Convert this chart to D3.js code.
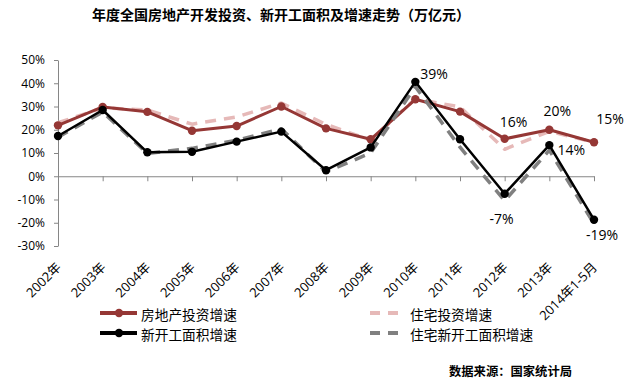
<!DOCTYPE html>
<html>
<head>
<meta charset="utf-8">
<script src="https://cdn.jsdelivr.net/npm/d3@7"></script>
<style>
  body { margin: 0; background: #fff; }
  svg { display: block; }
  .axis path, .axis line { stroke: #868686; }
</style>
</head>
<body>
<script>
const W = 633, H = 386;
const latin = "'Open Sans', 'Noto Sans CJK SC', sans-serif";
const cjk = "'Noto Sans CJK SC', sans-serif";

// categories and series (%)
const years = ["2002年", "2003年", "2004年", "2005年", "2006年", "2007年", "2008年",
               "2009年", "2010年", "2011年", "2012年", "2013年", "2014年1-5月"];
const invest = [21.9, 29.8, 27.7, 19.6, 21.6, 30.0, 20.6, 15.9, 33.1, 27.8, 16.1, 20.0, 14.6];
const houseInvest = [23.0, 29.4, 28.5, 22.4, 25.5, 31.5, 22.3, 15.5, 33.3, 29.8, 11.6, 19.3, 14.6];
const newStart = [17.3, 28.5, 10.3, 10.5, 14.9, 19.2, 2.6, 12.4, 40.6, 15.9, -7.5, 13.4, -18.7];
const houseStart = [16.8, 27.6, 9.8, 12.0, 15.5, 20.4, 1.8, 10.0, 38.5, 12.5, -10.5, 11.2, -20.5];
const yTicks = [-30, -20, -10, 0, 10, 20, 30, 40, 50];

const seriesNames = ["房地产投资增速", "住宅投资增速", "新开工面积增速", "住宅新开工面积增速"];

// data labels: series index, category index, text
const labelSeries = [2, 0, 0, 0, 2, 2, 2];
const labelCats = [8, 10, 11, 12, 11, 10, 12];
const labelTexts = ["39%", "16%", "20%", "15%", "14%", "-7%", "-19%"];
// label offsets from their point, px
const labelDx = [5, 9, 8, 16, 22, -3, 8];
const labelDy = [-8, -17, -19, -23, 5, 25, 15];

const svg = d3.select("body").append("svg")
    .attr("width", W)
    .attr("height", H);

const x = d3.scalePoint()
    .domain(years)
    .range([58, 594]);

const y = d3.scaleLinear()
    .domain([-30, 50])
    .range([246, 60]);

// title
svg.append("text")
    .attr("x", 92)
    .attr("y", 15)
    .attr("dy", "0.35em")
    .style("font-family", cjk)
    .style("font-size", "14px")
    .style("font-weight", "bold")
    .text("年度全国房地产开发投资、新开工面积及增速走势（万亿元）");

// y axis
let yAxis = svg.append("g")
    .attr("class", "axis")
    .attr("transform", "translate(58,0)")
    .call(d3.axisLeft(y).tickValues(yTicks).tickSize(4).tickSizeOuter(0)
        .tickFormat(d => d + "%"));
yAxis.selectAll("text")
    .attr("x", -13)
    .style("font-family", latin)
    .style("font-size", "12px")
    .attr("fill", "#000");

// x axis at zero
svg.append("g")
    .attr("class", "axis")
    .attr("transform", "translate(0," + y(0) + ")")
    .call(d3.axisBottom(x).tickSize(5).tickSizeOuter(0).tickFormat(""));

// category labels at the bottom, rotated
svg.append("g").selectAll("text")
    .data(years)
    .join("text")
    .attr("transform", d => "translate(" + (x(d) + 4) + ",268) rotate(-45)")
    .attr("text-anchor", "end")
    .style("font-family", latin)
    .style("font-size", "13px")
    .text(d => d);

const line = d3.line()
    .x((d, i) => x(years[i]))
    .y(d => y(d));

const styles = [
  {data: invest, color: "#953735", width: 3, dash: null, marker: true},
  {data: houseInvest, color: "#e6b9b8", width: 3.5, dash: "11,8", marker: false},
  {data: newStart, color: "#000000", width: 2.5, dash: null, marker: true},
  {data: houseStart, color: "#808080", width: 3.5, dash: "11,8", marker: false}
];

// draw order: dashed under solid
[1, 0, 3, 2].forEach(k => {
  let s = styles[k];
  svg.append("path")
      .datum(s.data)
      .attr("fill", "none")
      .attr("stroke", s.color)
      .attr("stroke-width", s.width)
      .attr("stroke-dasharray", s.dash)
      .attr("stroke-linejoin", "round")
      .attr("d", line);
  if (s.marker) {
    svg.append("g").selectAll("circle")
        .data(s.data)
        .join("circle")
        .attr("cx", (d, i) => x(years[i]))
        .attr("cy", d => y(d))
        .attr("r", 4.2)
        .attr("fill", s.color);
  }
});

// data labels
labelTexts.forEach((t, j) => {
  let s = styles[labelSeries[j]];
  let c = labelCats[j];
  svg.append("text")
      .attr("x", x(years[c]) + labelDx[j])
      .attr("y", y(s.data[c]) + labelDy[j])
      .attr("dy", "0.35em")
      .attr("text-anchor", j === 0 ? "start" : "middle")
      .style("font-family", latin)
      .style("font-size", "14px")
      .text(t);
});

// legend
const legX = [100, 370];
const legY = [313, 333];
[0, 1, 2, 3].forEach(k => {
  let col = k % 2, row = Math.floor(k / 2);
  let s = styles[k];
  let lx = legX[col], ly = legY[row];
  let g = svg.append("g");
  if (s.marker) {
    g.append("line")
        .attr("x1", lx).attr("x2", lx + 37)
        .attr("y1", ly).attr("y2", ly)
        .attr("stroke", s.color)
        .attr("stroke-width", 4);
    g.append("circle")
        .attr("cx", lx + 19).attr("cy", ly).attr("r", 4.2)
        .attr("fill", s.color);
  } else {
    g.append("line")
        .attr("x1", lx).attr("x2", lx + 28)
        .attr("y1", ly).attr("y2", ly)
        .attr("stroke", s.color)
        .attr("stroke-width", 4)
        .attr("stroke-dasharray", "10,8");
  }
  g.append("text")
      .attr("x", col === 0 ? lx + 41 : lx + 40)
      .attr("y", ly + 2.5)
      .attr("dy", "0.35em")
      .style("font-family", cjk)
      .style("font-size", "13.7px")
      .text(seriesNames[k]);
});

// source note
svg.append("text")
    .attr("x", 449)
    .attr("y", 372)
    .attr("dy", "0.35em")
    .style("font-family", cjk)
    .style("font-size", "12.3px")
    .style("font-weight", "bold")
    .text("数据来源：国家统计局");
</script>
</body>
</html>
